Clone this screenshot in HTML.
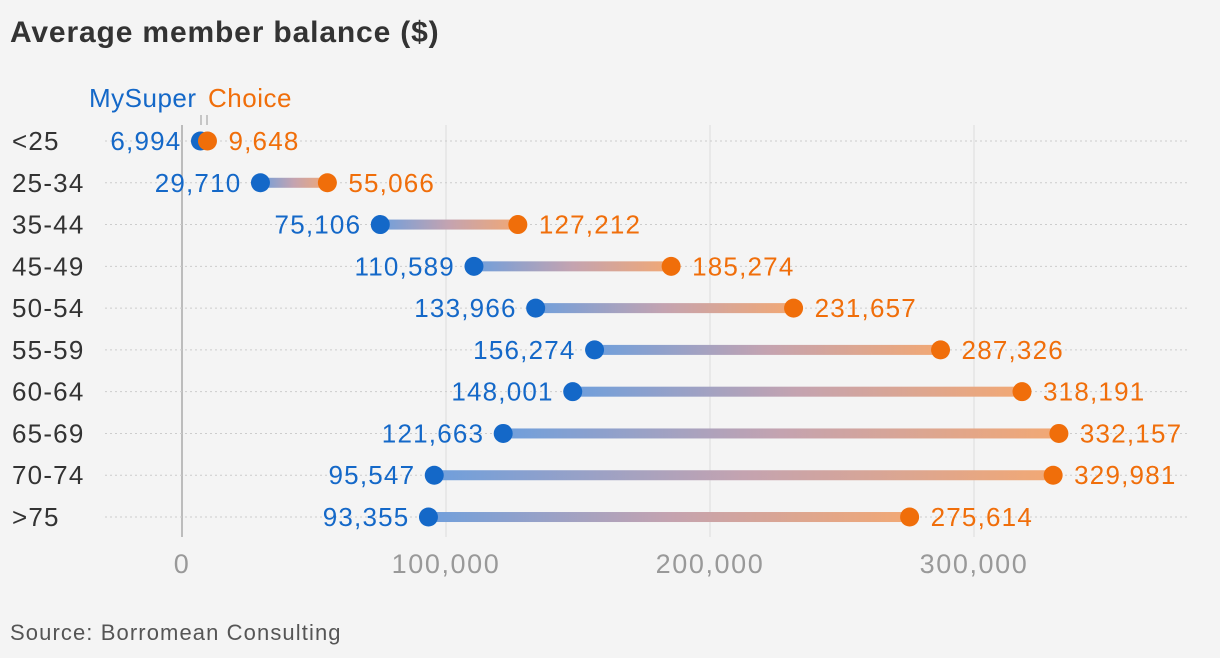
<!DOCTYPE html>
<html><head><meta charset="utf-8"><style>
body{margin:0;background:#f4f4f4;font-family:"Liberation Sans","DejaVu Sans",sans-serif;}
svg{display:block}
</style></head><body>
<svg id="c" width="1220" height="658">
<defs><linearGradient id="g" x1="0" x2="1" y1="0" y2="0"><stop offset="0" stop-color="#6f9fdc"/><stop offset="0.5" stop-color="#c4a3b0"/><stop offset="1" stop-color="#f2a874"/></linearGradient></defs>
<text x="10" y="42" font-size="30" font-weight="bold" letter-spacing="0.85" fill="#333">Average member balance ($)</text>
<text x="89" y="107" font-size="26" letter-spacing="0.5" fill="#1468c8">MySuper</text>
<text x="208" y="107" font-size="26" letter-spacing="0.5" fill="#f06e0a">Choice</text>
<line x1="201" y1="115" x2="201" y2="125" stroke="#999"/>
<line x1="207" y1="115" x2="207" y2="125" stroke="#999"/>
<text x="10" y="640" font-size="22" letter-spacing="1.1" fill="#555">Source: Borromean Consulting</text>
<g id="plot"></g>
</svg>
<script>
const categories=["<25","25-34","35-44","45-49","50-54","55-59","60-64","65-69","70-74",">75"];
const mysuper=[6994,29710,75106,110589,133966,156274,148001,121663,95547,93355];
const choice=[9648,55066,127212,185274,231657,287326,318191,332157,329981,275614];
const ticks=[0,100000,200000,300000];
const tickLabels=["0","100,000","200,000","300,000"];
const NS="http://www.w3.org/2000/svg";
const X=v=>182+v*0.002640;
const Y=i=>141+i*41.78;
const g=document.getElementById('plot');
function mk(t,a,txt){const e=document.createElementNS(NS,t);for(const k in a)e.setAttribute(k,a[k]);if(txt!==undefined)e.textContent=txt;g.appendChild(e);return e;}
const fmt=v=>v.toLocaleString('en-US');
ticks.forEach((t,i)=>{
 const l=mk('line',{x1:X(t),x2:X(t),y1:125,y2:537,stroke:i==0?'#aaa':'#ddd','stroke-width':i==0?1.5:1});
 
 
 const tx=mk('text',{x:X(t),y:573,'font-size':27,'letter-spacing':1.6,fill:'#999','text-anchor':'middle'},tickLabels[i]);
 
 
});
categories.forEach((c,i)=>{
 const y=Y(i);
 const gl=mk('line',{x1:105,x2:1188,y1:y,y2:y,stroke:'#ccc','stroke-dasharray':'2,3'});
 
 
 const lb=mk('text',{x:12,y:y+9,'font-size':26,'letter-spacing':1.2,fill:'#333'},c);
 
 
 const a=X(mysuper[i]),b=X(choice[i]);
 const bar=mk('rect',{x:Math.min(a,b),y:y-5,width:Math.abs(b-a),height:10,fill:'url(#g)'});
 
 
 const d1=mk('circle',{cx:a,cy:y,r:9.5,fill:'#1468c8'});
 
 
 const d2=mk('circle',{cx:b,cy:y,r:9.5,fill:'#f06e0a'});
 
 
 const t1=mk('text',{x:a-19,y:y+9,'font-size':26,'letter-spacing':1.2,fill:'#1468c8','text-anchor':'end'},fmt(mysuper[i]));
 
 
 const t2=mk('text',{x:b+21,y:y+9,'font-size':26,'letter-spacing':1.2,fill:'#f06e0a'},fmt(choice[i]));
 
 
});
</script>
</body></html>
